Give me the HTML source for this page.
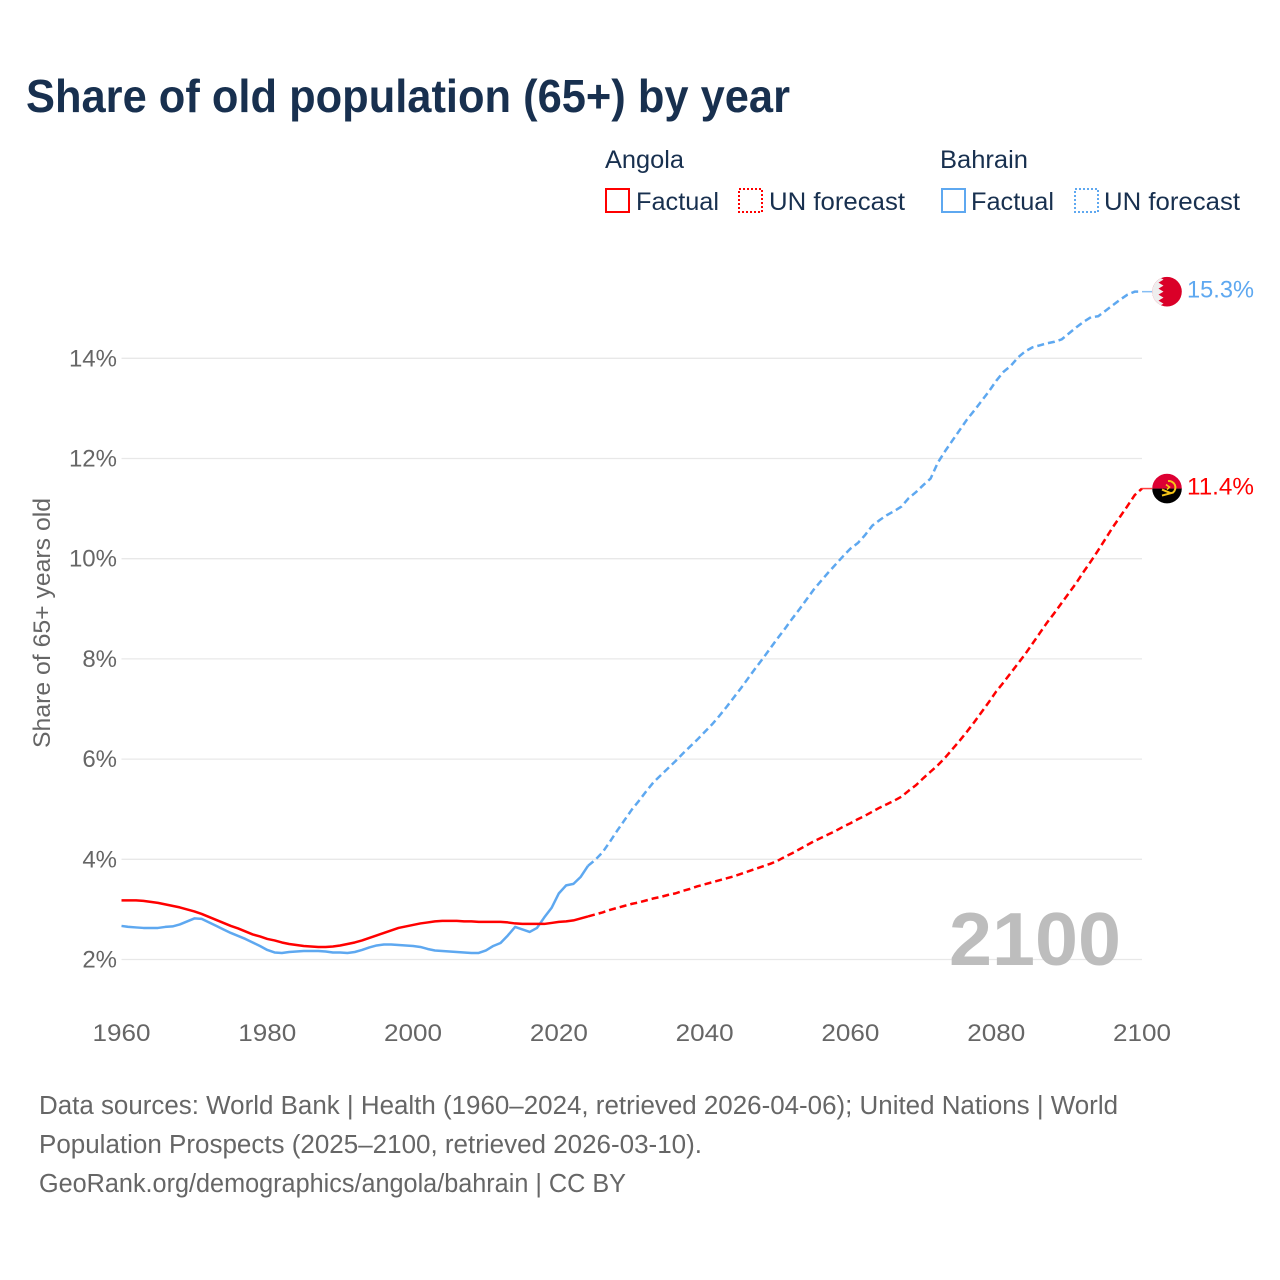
<!DOCTYPE html>
<html lang="en">
<head>
<meta charset="utf-8">
<title>Share of old population (65+) by year</title>
<style>
  html, body { margin: 0; padding: 0; background: #ffffff; }
  svg { display: block; font-family: "Liberation Sans", sans-serif; }
  .legend-text { font-size: 25px; fill: #18304f; }
  .source { font-size: 25.5px; fill: #666666; }
</style>
</head>
<body>
<svg id="chart" xmlns="http://www.w3.org/2000/svg" width="1280" height="1280" viewBox="0 0 1280 1280">
  <defs>
    <clipPath id="flag-clip"><circle cx="0" cy="0" r="14.8"></circle></clipPath>
  </defs>
  <rect x="0" y="0" width="1280" height="1280" fill="#ffffff"></rect>

  <text x="26" y="112" font-size="46" font-weight="700" fill="#18304f" textLength="764" lengthAdjust="spacingAndGlyphs">Share of old population (65+) by year</text>

  <g>
    <text class="legend-text" x="605" y="168" textLength="79" lengthAdjust="spacingAndGlyphs">Angola</text>
    <text class="legend-text" x="940" y="168" textLength="88" lengthAdjust="spacingAndGlyphs">Bahrain</text>
    <rect x="606" y="189" width="23" height="23" fill="none" stroke="#ff0000" stroke-width="2"></rect>
    <text class="legend-text" x="636" y="210" textLength="83" lengthAdjust="spacingAndGlyphs">Factual</text>
    <rect x="739" y="189" width="23" height="23" fill="none" stroke="#ff0000" stroke-width="2" stroke-dasharray="2 2"></rect>
    <text class="legend-text" x="769" y="210" textLength="136" lengthAdjust="spacingAndGlyphs">UN forecast</text>
    <rect x="942" y="189" width="23" height="23" fill="none" stroke="#5ea8f0" stroke-width="2"></rect>
    <text class="legend-text" x="971" y="210" textLength="83" lengthAdjust="spacingAndGlyphs">Factual</text>
    <rect x="1075" y="189" width="23" height="23" fill="none" stroke="#5ea8f0" stroke-width="2" stroke-dasharray="2 2"></rect>
    <text class="legend-text" x="1104" y="210" textLength="136" lengthAdjust="spacingAndGlyphs">UN forecast</text>
  </g>

  <g id="grid"></g>
  <g id="y-ticks"></g>
  <g id="x-ticks"></g>

  <text x="0" y="0" transform="translate(50 623) rotate(-90)" text-anchor="middle" font-size="24.5" fill="#666666" textLength="250" lengthAdjust="spacingAndGlyphs">Share of 65+ years old</text>

  <text x="949" y="965" font-size="75" font-weight="700" fill="#bdbdbd" textLength="172" lengthAdjust="spacingAndGlyphs">2100</text>

  <g id="series"></g>

  <g id="flag-bahrain">
    <g clip-path="url(#flag-clip)">
      <rect x="-15" y="-15" width="30" height="30" fill="#da0028"></rect>
      <polygon fill="#eeeeee" points="-15,-15 -8.5,-15 -3.5,-12 -8.5,-9 -3.5,-6 -8.5,-3 -3.5,0 -8.5,3 -3.5,6 -8.5,9 -3.5,12 -8.5,15 -15,15"></polygon>
    </g>
  </g>
  <g id="flag-angola">
    <g clip-path="url(#flag-clip)">
      <rect x="-15" y="-15" width="30" height="15" fill="#dd0033"></rect>
      <rect x="-15" y="0" width="30" height="15" fill="#000000"></rect>
      <path d="M1,-7.5 A6.5,6.5 0 0 1 6,4 L-5,7" fill="none" stroke="#f5c518" stroke-width="2"></path>
      <path d="M-5,1 L3.5,4.5" fill="none" stroke="#f5c518" stroke-width="2"></path>
      <path d="M-1,-4 L2.5,-1.5 L0,1" fill="none" stroke="#f5c518" stroke-width="1.6"></path>
    </g>
  </g>

  <text id="label-bahrain" x="1187" font-size="24.5" fill="#5ea8f0" textLength="67" lengthAdjust="spacingAndGlyphs"></text>
  <text id="label-angola" x="1187" font-size="24.5" fill="#ff0000" textLength="67" lengthAdjust="spacingAndGlyphs"></text>

  <g>
    <text class="source" x="39" y="1114" textLength="1079" lengthAdjust="spacingAndGlyphs">Data sources: World Bank | Health (1960–2024, retrieved 2026-04-06); United Nations | World</text>
    <text class="source" x="39" y="1153" textLength="663" lengthAdjust="spacingAndGlyphs">Population Prospects (2025–2100, retrieved 2026-03-10).</text>
    <text class="source" x="39" y="1192" textLength="587" lengthAdjust="spacingAndGlyphs">GeoRank.org/demographics/angola/bahrain | CC BY</text>
  </g>
</svg>
<script>
const yTickValues = [2, 4, 6, 8, 10, 12, 14];
const xTickYears = [1960, 1980, 2000, 2020, 2040, 2060, 2080, 2100];

const factualYears = [1960,1961,1962,1963,1964,1965,1966,1967,1968,1969,1970,1971,1972,1973,1974,1975,1976,1977,1978,1979,1980,1981,1982,1983,1984,1985,1986,1987,1988,1989,1990,1991,1992,1993,1994,1995,1996,1997,1998,1999,2000,2001,2002,2003,2004,2005,2006,2007,2008,2009,2010,2011,2012,2013,2014,2015,2016,2017,2018,2019,2020,2021,2022,2023,2024];

const forecastYears = [2024,2025,2026,2027,2028,2029,2030,2031,2032,2033,2034,2035,2036,2037,2038,2039,2040,2041,2042,2043,2044,2045,2046,2047,2048,2049,2050,2051,2052,2053,2054,2055,2056,2057,2058,2059,2060,2061,2062,2063,2064,2065,2066,2067,2068,2069,2070,2071,2072,2073,2074,2075,2076,2077,2078,2079,2080,2081,2082,2083,2084,2085,2086,2087,2088,2089,2090,2091,2092,2093,2094,2095,2096,2097,2098,2099,2100];

const angolaFactual = [3.18,3.18,3.18,3.17,3.15,3.13,3.10,3.07,3.04,3.00,2.96,2.91,2.85,2.79,2.73,2.67,2.62,2.56,2.50,2.46,2.41,2.38,2.34,2.31,2.29,2.27,2.26,2.25,2.25,2.26,2.28,2.31,2.34,2.38,2.43,2.48,2.53,2.58,2.63,2.66,2.69,2.72,2.74,2.76,2.77,2.77,2.77,2.76,2.76,2.75,2.75,2.75,2.75,2.74,2.72,2.71,2.71,2.71,2.71,2.73,2.75,2.76,2.78,2.82,2.86];

const angolaForecast = [2.86,2.90,2.94,2.99,3.03,3.07,3.11,3.14,3.18,3.22,3.25,3.29,3.32,3.37,3.41,3.46,3.50,3.54,3.58,3.62,3.66,3.71,3.76,3.81,3.86,3.91,3.97,4.05,4.12,4.20,4.28,4.36,4.43,4.50,4.57,4.65,4.72,4.80,4.87,4.95,5.03,5.10,5.17,5.25,5.37,5.48,5.62,5.75,5.88,6.03,6.20,6.37,6.55,6.74,6.94,7.14,7.35,7.53,7.72,7.91,8.10,8.31,8.52,8.73,8.92,9.12,9.32,9.52,9.74,9.95,10.17,10.40,10.63,10.84,11.05,11.27,11.40];

const bahrainFactual = [2.67,2.65,2.64,2.63,2.63,2.63,2.65,2.66,2.70,2.76,2.82,2.81,2.74,2.67,2.60,2.53,2.47,2.41,2.34,2.27,2.19,2.14,2.13,2.15,2.16,2.17,2.17,2.17,2.16,2.14,2.14,2.13,2.15,2.19,2.24,2.28,2.30,2.30,2.29,2.28,2.27,2.25,2.21,2.18,2.17,2.16,2.15,2.14,2.13,2.13,2.18,2.27,2.33,2.48,2.65,2.60,2.55,2.63,2.84,3.03,3.32,3.48,3.51,3.65,3.87];

const bahrainForecast = [3.87,3.99,4.14,4.35,4.57,4.78,4.99,5.17,5.36,5.54,5.68,5.82,5.96,6.11,6.25,6.39,6.54,6.69,6.86,7.04,7.23,7.42,7.62,7.82,8.01,8.21,8.41,8.60,8.80,8.99,9.19,9.39,9.56,9.73,9.89,10.05,10.20,10.31,10.47,10.66,10.77,10.87,10.95,11.04,11.21,11.33,11.47,11.60,11.92,12.15,12.36,12.57,12.78,12.96,13.15,13.34,13.55,13.73,13.85,14.02,14.14,14.22,14.26,14.30,14.33,14.38,14.50,14.62,14.73,14.82,14.84,14.95,15.06,15.17,15.27,15.33,15.33];

const svgNS = 'http://www.w3.org/2000/svg';
const plotLeft = 121.5;
const plotRight = 1142;
const yearMin = 1960;
const yearMax = 2100;
const y2Pixel = 959.5;
const pixelsPerPercent = 50.1;

function xScale(year) {
  return plotLeft + (year - yearMin) * (plotRight - plotLeft) / (yearMax - yearMin);
}
function yScale(value) {
  return y2Pixel - (value - 2) * pixelsPerPercent;
}
function pointsFor(years, values) {
  return years.map(function (year, i) {
    return xScale(year).toFixed(2) + ',' + yScale(values[i]).toFixed(2);
  }).join(' ');
}

const gridGroup = document.getElementById('grid');
const yTickGroup = document.getElementById('y-ticks');
const xTickGroup = document.getElementById('x-ticks');
const seriesGroup = document.getElementById('series');

yTickValues.forEach(function (tick) {
  const line = document.createElementNS(svgNS, 'line');
  
  
  line.setAttribute('x1', plotLeft);
  line.setAttribute('x2', plotRight);
  line.setAttribute('y1', yScale(tick));
  line.setAttribute('y2', yScale(tick));
  line.setAttribute('stroke', '#e8e8e8');
  line.setAttribute('stroke-width', '1.3');
  gridGroup.appendChild(line);

  const label = document.createElementNS(svgNS, 'text');
  
  
  label.setAttribute('x', '117');
  label.setAttribute('y', yScale(tick) + 8);
  label.setAttribute('text-anchor', 'end');
  label.setAttribute('font-size', '24');
  label.setAttribute('fill', '#666666');
  label.textContent = tick + '%';
  yTickGroup.appendChild(label);
});

xTickYears.forEach(function (year) {
  const label = document.createElementNS(svgNS, 'text');
  
  
  label.setAttribute('x', xScale(year));
  label.setAttribute('y', '1041');
  label.setAttribute('text-anchor', 'middle');
  label.setAttribute('font-size', '24.5');
  label.setAttribute('fill', '#666666');
  label.setAttribute('textLength', '58');
  label.setAttribute('lengthAdjust', 'spacingAndGlyphs');
  label.textContent = year;
  xTickGroup.appendChild(label);
});

function drawLine(years, values, color, dashed, name) {
  const poly = document.createElementNS(svgNS, 'polyline');
  
  
  poly.setAttribute('points', pointsFor(years, values));
  poly.setAttribute('fill', 'none');
  poly.setAttribute('stroke', color);
  poly.setAttribute('stroke-width', '2.5');
  poly.setAttribute('stroke-linejoin', 'round');
  if (dashed) {
    poly.setAttribute('stroke-dasharray', '7 4');
  }
  seriesGroup.appendChild(poly);
}

function drawEnd(values, color, flagId, labelId, connectorName) {
  const last = values[values.length - 1];
  const px = xScale(yearMax);
  const py = yScale(last);
  const conn = document.createElementNS(svgNS, 'line');
  
  
  conn.setAttribute('x1', px);
  conn.setAttribute('x2', px + 10);
  conn.setAttribute('y1', py);
  conn.setAttribute('y2', py);
  conn.setAttribute('stroke', color);
  conn.setAttribute('stroke-width', '1.5');
  conn.setAttribute('stroke-opacity', '0.75');
  seriesGroup.appendChild(conn);
  document.getElementById(flagId).setAttribute('transform', 'translate(' + (px + 25) + ' ' + py + ')');
  const label = document.getElementById(labelId);
  label.setAttribute('y', py + 6);
  label.textContent = last.toFixed(1) + '%';
}

drawLine(factualYears, bahrainFactual, '#5ea8f0', false, 'line-bahrain-factual');
drawLine(forecastYears, bahrainForecast, '#5ea8f0', true, 'line-bahrain-forecast');
drawLine(factualYears, angolaFactual, '#ff0000', false, 'line-angola-factual');
drawLine(forecastYears, angolaForecast, '#ff0000', true, 'line-angola-forecast');
drawEnd(bahrainForecast, '#5ea8f0', 'flag-bahrain', 'label-bahrain', 'connector-bahrain');
drawEnd(angolaForecast, '#ff0000', 'flag-angola', 'label-angola', 'connector-angola');
</script>
</body>
</html>
